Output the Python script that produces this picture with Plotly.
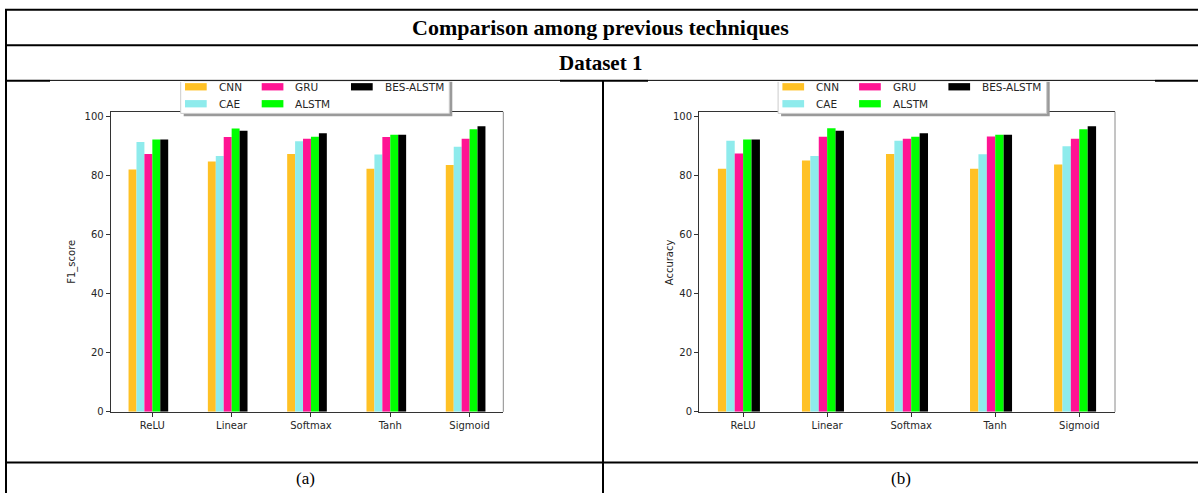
import plotly.graph_objects as go

W, H = 1198, 499

# ---- data -------------------------------------------------------------
activations = ["ReLU", "Linear", "Softmax", "Tanh", "Sigmoid"]
models = ["CNN", "CAE", "GRU", "ALSTM", "BES-ALSTM"]
colors = ["#FFC125", "#8EEBEC", "#FF1493", "#00FF00", "#000000"]

f1_cnn = [81.9, 84.6, 87.2, 82.2, 83.4]
f1_cae = [91.2, 86.5, 91.5, 87.0, 89.6]
f1_gru = [87.2, 92.9, 92.3, 92.9, 92.3]
f1_alstm = [92.1, 95.8, 93.0, 93.7, 95.5]
f1_bes = [92.1, 95.0, 94.2, 93.7, 96.5]

acc_cnn = [82.2, 85.0, 87.2, 82.2, 83.6]
acc_cae = [91.6, 86.5, 91.6, 87.1, 89.8]
acc_gru = [87.3, 93.0, 92.3, 93.1, 92.3]
acc_alstm = [92.1, 95.9, 93.0, 93.7, 95.5]
acc_bes = [92.1, 95.0, 94.2, 93.7, 96.5]

y_ticks = [0, 20, 40, 60, 80, 100]

f1_series = [f1_cnn, f1_cae, f1_gru, f1_alstm, f1_bes]
acc_series = [acc_cnn, acc_cae, acc_gru, acc_alstm, acc_bes]


# ---- helpers: pixel -> paper coordinates --------------------------------
def px(x):
    return x / W


def py(y):
    return 1 - y / H


AX_FONT = dict(family="DejaVu Sans", size=10, color="#262626")
SERIF = "Liberation Serif"

fig = go.Figure()

bar_w = 0.1
positions = list(range(len(activations)))
for k, (name, col) in enumerate(zip(models, colors)):
    fig.add_trace(go.Bar(
        x=positions, y=f1_series[k], name=name, marker_color=col,
        marker_line_width=0, width=bar_w, offset=-0.3 + k * bar_w,
        xaxis="x", yaxis="y", showlegend=False,
    ))
    fig.add_trace(go.Bar(
        x=positions, y=acc_series[k], name=name, marker_color=col,
        marker_line_width=0, width=bar_w, offset=-0.3 + k * bar_w,
        xaxis="x2", yaxis="y2", showlegend=False,
    ))

# plot areas (pixels)
left_box = (110.7, 503.3)
right_box = (699.0, 1115.0)
top_px, bot_px = 112.3, 416.7

common_x = dict(
    range=[-0.525, 4.425], tickmode="array", tickvals=positions,
    ticktext=activations, ticks="outside", ticklen=4, tickcolor="#333",
    showline=True, linecolor="#333", linewidth=1, mirror=True,
    showgrid=False, zeroline=False, tickfont=AX_FONT, fixedrange=True,
)
common_y = dict(
    range=[0, 101.45], tickmode="array", tickvals=y_ticks,
    ticks="outside", ticklen=4, tickcolor="#333",
    showline=True, linecolor="#333", linewidth=1, mirror=False,
    showgrid=False, zeroline=False, tickfont=AX_FONT, fixedrange=True,
)

fig.update_layout(
    width=W, height=H, autosize=False,
    margin=dict(l=0, r=0, t=0, b=0, pad=0),
    paper_bgcolor="white", plot_bgcolor="white",
    barmode="overlay", showlegend=False,
    xaxis=dict(domain=[px(left_box[0]), px(left_box[1])], anchor="y", **common_x),
    yaxis=dict(domain=[py(bot_px), py(top_px)], anchor="x", **common_y),
    xaxis2=dict(domain=[px(right_box[0]), px(right_box[1])], anchor="y2", **common_x),
    yaxis2=dict(domain=[py(bot_px), py(top_px)], anchor="x2", **common_y),
)

shapes = []
annotations = []


def hline(x0, x1, y, w=2, color="black"):
    shapes.append(dict(type="line", xref="paper", yref="paper",
                       x0=px(x0), x1=px(x1), y0=py(y), y1=py(y),
                       line=dict(color=color, width=w)))


def vline(x, y0, y1, w=2, color="black"):
    shapes.append(dict(type="line", xref="paper", yref="paper",
                       x0=px(x), x1=px(x), y0=py(y0), y1=py(y1),
                       line=dict(color=color, width=w)))


def rect(x0, y0, x1, y1, fill, line_color=None, line_w=0):
    shapes.append(dict(type="rect", xref="paper", yref="paper",
                       x0=px(x0), x1=px(x1), y0=py(y1), y1=py(y0),
                       fillcolor=fill,
                       line=dict(color=line_color or fill, width=line_w)))


# ---- table frame ------------------------------------------------------
hline(5, W, 9)
hline(5, W, 45)
for a, b in [(5, 50), (560, 648), (1155, W)]:
    hline(a, b, 81)
for a, b in [(50, 560), (648, 1155)]:
    hline(a, b, 80.5, w=1)
hline(5, W, 468)
vline(6, 8, H)
vline(603, 80, H)

# lighter right-hand spines of both plot areas
for box in (left_box, right_box):
    vline(box[1], top_px, bot_px, w=1, color="#8a8a8a")


# ---- legends (one per panel) -----------------------------------------
def draw_legend(dx):
    x0, x1, y0, y1 = 180.7 + dx, 449.3 + dx, 82.0, 114.0
    # drop shadow
    rect(x0 + 3, y0, x1 + 3, y1 + 3, "#9a9a9a")
    rect(x0, y0, x1, y1, "white")
    shapes.append(dict(type="path", xref="paper", yref="paper",
                       path=f"M {px(x0)},{py(y0)} L {px(x0)},{py(y1)} "
                            f"L {px(x1)},{py(y1)} L {px(x1)},{py(y0)}",
                       line=dict(color="#cccccc", width=1)))
    col_x = [185.0, 261.7, 351.0]
    row_y = [87.0, 104.2]
    slots = [(0, 0), (0, 1), (1, 0), (1, 1), (2, 0)]
    for (c, r), name, col in zip(slots, models, colors):
        lx = col_x[c] + dx
        cy = row_y[r]
        rect(lx, cy - 3.7, lx + 21.7, cy + 3.7, col)
        annotations.append(dict(
            x=px(lx + 31.5), y=py(cy), xref="paper", yref="paper",
            text=name, showarrow=False, xanchor="left", yanchor="middle",
            font=dict(family="DejaVu Sans", size=10.5, color="#262626")))


draw_legend(0)
draw_legend(597.4)

# ---- text -------------------------------------------------------------
annotations.append(dict(x=px(600), y=py(27), xref="paper", yref="paper",
                        text="<b>Comparison among previous techniques</b>",
                        showarrow=False, xanchor="center", yanchor="middle",
                        font=dict(family=SERIF, size=22, color="black")))
annotations.append(dict(x=px(600), y=py(63), xref="paper", yref="paper",
                        text="<b>Dataset 1</b>", showarrow=False,
                        xanchor="center", yanchor="middle",
                        font=dict(family=SERIF, size=21, color="black")))
annotations.append(dict(x=px(305), y=py(484), xref="paper", yref="paper",
                        text="(a)", showarrow=False, xanchor="center",
                        yanchor="middle",
                        font=dict(family=SERIF, size=17, color="black")))
annotations.append(dict(x=px(901), y=py(484), xref="paper", yref="paper",
                        text="(b)", showarrow=False, xanchor="center",
                        yanchor="middle",
                        font=dict(family=SERIF, size=17, color="black")))
annotations.append(dict(x=px(72.5), y=py(265), xref="paper", yref="paper",
                        text="F1_score", textangle=-90, showarrow=False,
                        xanchor="center", yanchor="middle", font=AX_FONT))
annotations.append(dict(x=px(669), y=py(265), xref="paper", yref="paper",
                        text="Accuracy", textangle=-90, showarrow=False,
                        xanchor="center", yanchor="middle", font=AX_FONT))

fig.update_layout(shapes=shapes, annotations=annotations)

fig.write_html("out.html")
